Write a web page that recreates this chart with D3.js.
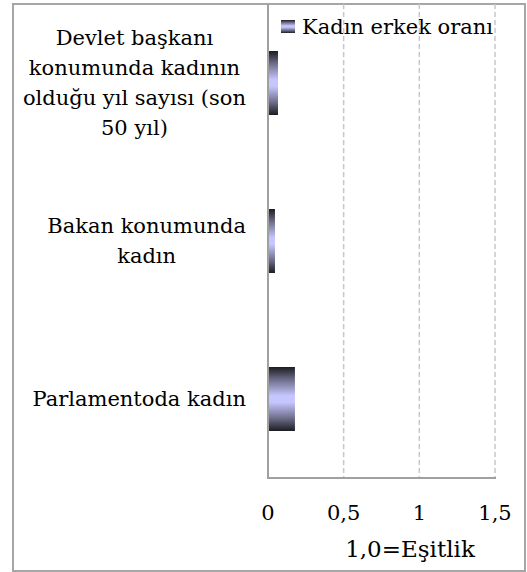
<!DOCTYPE html>
<html><head><meta charset="utf-8">
<script src="https://cdn.jsdelivr.net/npm/d3@7"></script>
<style>body{margin:0;background:#fff}svg{display:block}svg text{font-family:"DejaVu Serif",serif}</style>
</head><body>
<script>
const categories = ["Devlet başkanı konumunda kadının olduğu yıl sayısı (son 50 yıl)", "Bakan konumunda kadın", "Parlamentoda kadın"];
const categoryLines = [["Devlet başkanı","konumunda kadının","olduğu yıl sayısı (son","50 yıl)"],["Bakan konumunda","kadın"],["Parlamentoda kadın"]];
const values = [0.066, 0.046, 0.178];
const xTicks = [0, 0.5, 1, 1.5];
const xTickLabels = ["0","0,5","1","1,5"];
const seriesName = "Kadın erkek oranı";
const axisTitle = "1,0=Eşitlik";

(function(){
const W = 527, H = 572;
const svg = d3.select("body").append("svg").attr("width", W).attr("height", H);
const defs = svg.append("defs");
const g = defs.append("linearGradient").attr("id","barGrad").attr("x1",0).attr("y1",0).attr("x2",0).attr("y2",1);
[[0,"#1c1c22"],[0.2,"#6e6e8a"],[0.45,"#c6c6ff"],[0.55,"#c6c6ff"],[0.8,"#6e6e8a"],[1,"#1c1c22"]].forEach(([o,c])=>g.append("stop").attr("offset",o).attr("stop-color",c));

svg.append("rect").attr("x",13).attr("y",4).attr("width",512).attr("height",567)
  .attr("fill","#fff").attr("stroke","#a6a6a6").attr("stroke-width",2);

const pL = 268, pR = 495, pT = 4, pB = 478;
const x = d3.scaleLinear().domain([0,1.5]).range([pL,pR]);
const y = d3.scaleBand().domain(categories).range([pT,pB]).paddingInner(0.595).paddingOuter(0.2975);

svg.append("g").selectAll("line").data(xTicks.filter(d=>d>0)).join("line")
  .attr("x1",d=>x(d)).attr("x2",d=>x(d)).attr("y1",pT).attr("y2",pB)
  .attr("stroke","#c8c8c8").attr("stroke-width",1.5).attr("stroke-dasharray","5,3");

svg.append("g").selectAll("rect").data(values).join("rect")
  .attr("x",x(0)).attr("y",(d,i)=>y(categories[i]))
  .attr("width",d=>x(d)-x(0)).attr("height",y.bandwidth())
  .attr("fill","url(#barGrad)");

svg.append("line").attr("x1",pL).attr("x2",pL).attr("y1",pT).attr("y2",pB).attr("stroke","#a0a0a0").attr("stroke-width",2);
svg.append("line").attr("x1",pL-1).attr("x2",pR+1).attr("y1",pB).attr("y2",pB).attr("stroke","#a0a0a0").attr("stroke-width",2);

svg.append("g").selectAll("text").data(xTicks).join("text")
  .attr("x",d=>x(d)).attr("y",520).attr("text-anchor","middle")
  .attr("font-size",21).attr("fill","#000")
  .text((d,i)=>xTickLabels[i]);

svg.append("text").attr("x",410).attr("y",557).attr("text-anchor","middle")
  .attr("font-size",23).attr("fill","#000").text(axisTitle);

const labRight = 246, lh = 30;
categories.forEach((c,i)=>{
  const lines = categoryLines[i];
  const cy = y(c) + y.bandwidth()/2;
  const grp = svg.append("g");
  const ts = grp.selectAll("text").data(lines).join("text")
    .attr("font-size",21).attr("fill","#000")
    .attr("text-anchor","middle").attr("dominant-baseline","central")
    .attr("y",(d,k)=>cy + (k-(lines.length-1)/2)*lh)
    .text(d=>d);
  let maxW = 0; ts.each(function(){maxW=Math.max(maxW,this.getComputedTextLength());});
  ts.attr("x", labRight - maxW/2);
});

svg.append("rect").attr("x",281).attr("y",20).attr("width",14).attr("height",13).attr("fill","url(#barGrad)");
svg.append("text").attr("x",302).attr("y",34).attr("font-size",21).attr("fill","#000").text(seriesName);
})();
</script>
</body></html>
